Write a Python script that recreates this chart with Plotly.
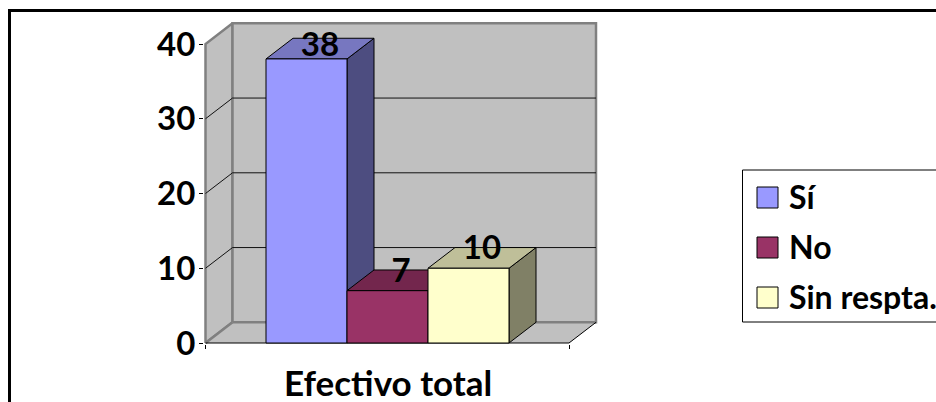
import plotly.graph_objects as go

categories = ["Sí", "No", "Sin respta."]
values = [38, 7, 10]
front_colors = ["#9999FF", "#993366", "#FFFFCC"]
top_colors = ["#7777C0", "#73264D", "#BFBF99"]
side_colors = ["#4D4D80", "#4D1A33", "#808066"]
group_label = "Efectivo total"
y_ticks = [0, 10, 20, 30, 40]

FONT = "Lato"
W, H = 936, 402

# plot area in pixels
LEFT, RIGHT, TOP, BOTTOM = 204, 600, 20, 344
PX_PER_VAL = 7.475
PX_PER_BAR = 81.0
# oblique depth of the 3D look, in axis units
DEPTH_X = 27 / PX_PER_BAR
DEPTH_Y = 20.7 / PX_PER_VAL
X0 = (205.5 - 306.5) / PX_PER_BAR
X1 = (569 - 306.5) / PX_PER_BAR
Y_MAX = y_ticks[-1]
LINE_GRAY = "#808080"


# paper coordinates are relative to the plot area
def px(x):
    return (x - LEFT) / (RIGHT - LEFT)


def py(y):
    return (BOTTOM - y) / (BOTTOM - TOP)


def poly(xs, ys, fill, line_color, line_width=1):
    return go.Scatter(
        x=xs + xs[:1], y=ys + ys[:1],
        mode="lines",
        fill="toself",
        fillcolor=fill,
        line=dict(color=line_color, width=line_width),
        hoverinfo="skip",
        showlegend=False,
    )


def seg(xs, ys, color, width):
    return go.Scatter(
        x=xs, y=ys,
        mode="lines",
        line=dict(color=color, width=width),
        hoverinfo="skip",
        showlegend=False,
    )


fig = go.Figure()

# walls and floor
fig.add_trace(poly([X0, X0 + DEPTH_X, X0 + DEPTH_X, X0], [0, DEPTH_Y, Y_MAX + DEPTH_Y, Y_MAX], "#C0C0C0", LINE_GRAY, 2.5))
fig.add_trace(poly([X0 + DEPTH_X, X1 + DEPTH_X, X1 + DEPTH_X, X0 + DEPTH_X],
                   [DEPTH_Y, DEPTH_Y, Y_MAX + DEPTH_Y, Y_MAX + DEPTH_Y], "#C0C0C0", LINE_GRAY, 2.5))
fig.add_trace(poly([X0, X1, X1 + DEPTH_X, X0 + DEPTH_X], [0, 0, DEPTH_Y, DEPTH_Y], "#C0C0C0", LINE_GRAY, 0))
fig.add_trace(seg([X0 + DEPTH_X, X1 + DEPTH_X], [DEPTH_Y, DEPTH_Y], LINE_GRAY, 2.5))
fig.add_trace(seg([X0, X0 + DEPTH_X], [0, DEPTH_Y], LINE_GRAY, 2.5))
fig.add_trace(seg([X0, X1, X1 + DEPTH_X], [0, 0, DEPTH_Y], "#000000", 1))

# gridlines on side and back wall
for t in y_ticks[1:-1]:
    fig.add_trace(seg([X0, X0 + DEPTH_X, X1 + DEPTH_X], [t, t + DEPTH_Y, t + DEPTH_Y], "#111111", 1))

# bars, front to right so later ones cover the hidden side
for i, v in enumerate(values):
    l, r = i - 0.5, i + 0.5
    fig.add_trace(poly([r, r + DEPTH_X, r + DEPTH_X, r], [0, DEPTH_Y, v + DEPTH_Y, v], side_colors[i], "#000000"))
    fig.add_trace(poly([l, r, r + DEPTH_X, l + DEPTH_X], [v, v, v + DEPTH_Y, v + DEPTH_Y], top_colors[i], "#000000"))
    fig.add_trace(poly([l, r, r, l], [0, 0, v, v], front_colors[i], "#000000"))

# data labels sit at the back of the bar top, held under the top of the wall
fig.add_trace(go.Scatter(
    x=[i + DEPTH_X / 2 for i in range(len(values))],
    y=[min(v + DEPTH_Y - 0.45, Y_MAX - 0.55) for v in values],
    mode="text",
    text=[str(v) for v in values],
    textposition="middle center",
    textfont=dict(family=FONT, size=33, color="#000000", weight="bold"),
    cliponaxis=False,
    hoverinfo="skip",
    showlegend=False,
))

fig.update_xaxes(
    range=[(LEFT - 306.5) / PX_PER_BAR, (RIGHT - 306.5) / PX_PER_BAR],
    tickvals=[X0, X1],
    ticktext=["", ""],
    ticks="outside",
    ticklen=4,
    tickcolor="#000000",
    showgrid=False,
    zeroline=False,
    showline=False,
)
fig.update_yaxes(
    range=[(343 - BOTTOM) / PX_PER_VAL, (343 - TOP) / PX_PER_VAL],
    tickvals=y_ticks,
    ticks="outside",
    ticklen=4,
    tickcolor="#000000",
    tickfont=dict(family=FONT, size=33, color="#000000", weight="bold"),
    ticklabelstandoff=-3,
    showgrid=False,
    zeroline=False,
    showline=False,
)

annotations = [dict(
    x=1, xref="x", y=py(382), yref="paper",
    text=group_label, showarrow=False,
    font=dict(family=FONT, size=35, color="#000000", weight="bold"),
    xanchor="center", yanchor="middle",
)]

# legend box runs off the right edge of the page, as in the source picture
shapes = [
    dict(type="rect", xref="paper", yref="paper", layer="above",
         x0=px(742.5), x1=px(960), y0=py(170), y1=py(322),
         fillcolor="#FFFFFF", line=dict(color="#000000", width=1)),
]
for i, cat in enumerate(categories):
    top = 187 + 50 * i
    shapes.append(dict(type="rect", xref="paper", yref="paper", layer="above",
                       x0=px(757), x1=px(778), y0=py(top), y1=py(top + 21),
                       fillcolor=front_colors[i], line=dict(color="#000000", width=1)))
    annotations.append(dict(
        x=px(787), xref="paper", y=py(top + 9), yref="paper",
        text=cat, showarrow=False,
        font=dict(family=FONT, size=32, color="#000000", weight="bold"),
        xanchor="left", yanchor="middle",
    ))

# outer chart frame
shapes.append(dict(type="rect", xref="paper", yref="paper", layer="above",
                   x0=px(9.5), x1=px(980), y0=py(10.5), y1=py(440),
                   line=dict(color="#000000", width=3)))

fig.update_layout(
    width=W, height=H,
    autosize=False,
    margin=dict(l=LEFT, r=W - RIGHT, t=TOP, b=H - BOTTOM, pad=0),
    paper_bgcolor="#FFFFFF",
    plot_bgcolor="#FFFFFF",
    showlegend=False,
    hovermode=False,
    shapes=shapes,
    annotations=annotations,
)

# the browser's default body margin would push the figure off by 8px
fig.write_html(
    "out.html",
    config=dict(displayModeBar=False),
    post_script="document.body.style.margin='0';document.body.style.overflow='hidden';",
)
